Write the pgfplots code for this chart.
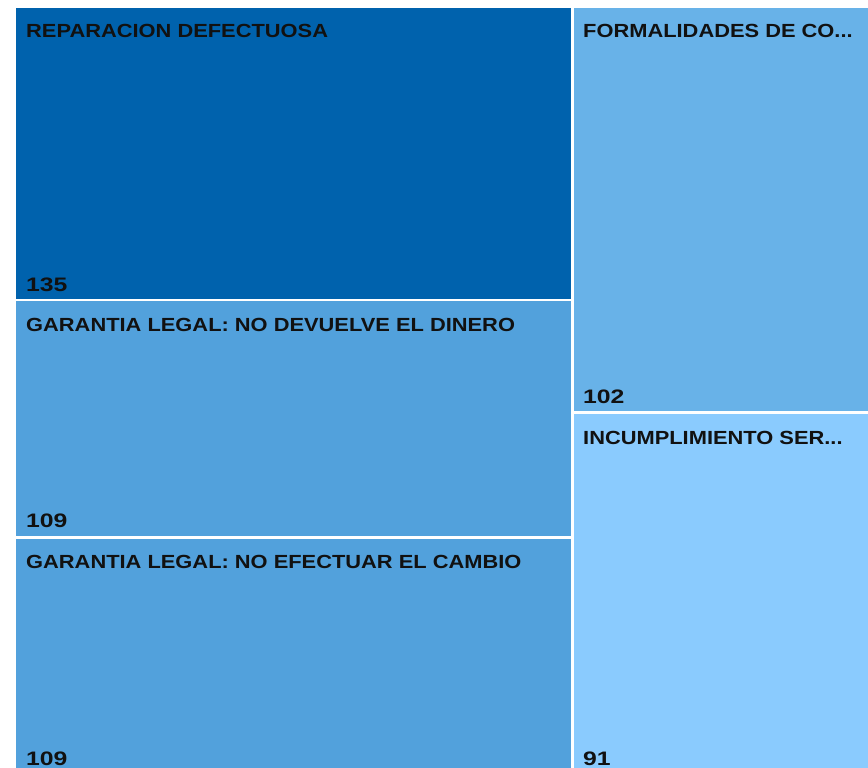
\documentclass[border=0pt]{standalone}
\usepackage{pgfplots}
\pgfplotsset{compat=1.18}
\usepackage{fontspec}
\setmainfont{Liberation Sans}
\newfontfamily\lblfont{Liberation Sans}[FakeStretch=1.15]
\newfontfamily\numfont{Liberation Sans}[FakeStretch=1.27]
\definecolor{c135}{HTML}{0062AD}
\definecolor{c109}{HTML}{52A1DC}
\definecolor{c102}{HTML}{68B2E8}
\definecolor{c91}{HTML}{8ACBFE}
\definecolor{txt}{HTML}{111111}
\tikzset{lbl/.style={anchor=base west, inner sep=0pt, text=txt, font=\lblfont\fontsize{19}{22}\selectfont\bfseries},
         num/.style={anchor=base west, inner sep=0pt, text=txt, font=\numfont\fontsize{19.5}{22}\selectfont\bfseries}}
\begin{document}
\begin{tikzpicture}
\begin{axis}[
  scale only axis, width=868pt, height=768pt,
  xmin=0, xmax=868, ymin=0, ymax=768, y dir=reverse,
  hide axis, clip=true,
]
% treemap cells: values 135, 109, 109 | 102, 91
\addplot[fill=c135, draw=none] coordinates {(16,8) (571,8) (571,299) (16,299)} -- cycle;
\addplot[fill=c109, draw=none] coordinates {(16,301) (571,301) (571,536) (16,536)} -- cycle;
\addplot[fill=c109, draw=none] coordinates {(16,539) (571,539) (571,775) (16,775)} -- cycle;
\addplot[fill=c102, draw=none] coordinates {(574,8) (880,8) (880,411) (574,411)} -- cycle;
\addplot[fill=c91, draw=none] coordinates {(574,414) (880,414) (880,775) (574,775)} -- cycle;
\path (axis cs:0,0) rectangle (axis cs:868,768);
\node[lbl] at (axis cs:26,38) {REPARACION DEFECTUOSA};
\node[num] at (axis cs:26,291) {135};
\node[lbl] at (axis cs:26,331) {GARANTIA LEGAL: NO DEVUELVE EL DINERO};
\node[num] at (axis cs:26,527) {109};
\node[lbl] at (axis cs:26,568) {GARANTIA LEGAL: NO EFECTUAR EL CAMBIO};
\node[num] at (axis cs:26,765) {109};
\node[lbl] at (axis cs:583,38) {FORMALIDADES DE CO...};
\node[num] at (axis cs:583,403) {102};
\node[lbl] at (axis cs:583,444) {INCUMPLIMIENTO SER...};
\node[num] at (axis cs:583,765) {91};
\end{axis}
\end{tikzpicture}
\end{document}
